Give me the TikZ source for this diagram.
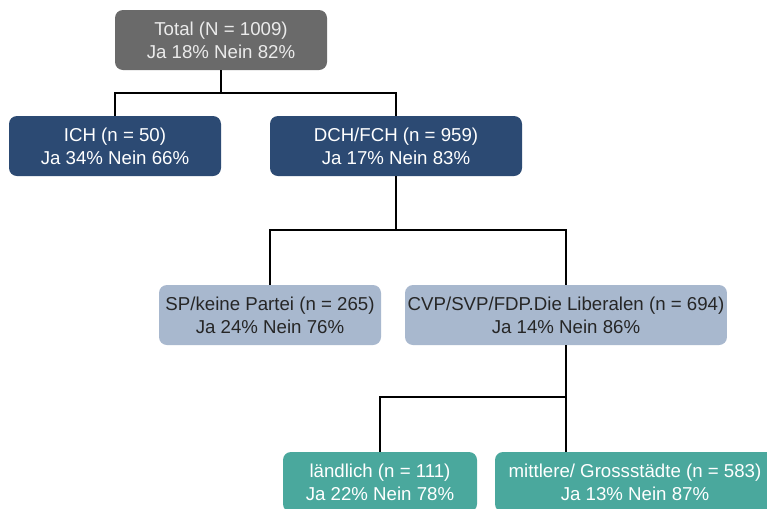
\documentclass[tikz,border=0pt]{standalone}
\usepackage{fontspec}
\setmainfont{Liberation Sans}
\usepackage{xcolor}
\usepackage{tikz}
\usetikzlibrary{positioning}
\definecolor{palGray}{HTML}{6A6A6A}
\definecolor{palNavy}{HTML}{2C4A73}
\definecolor{palSky}{HTML}{A8B8CE}
\definecolor{palTeal}{HTML}{4AA89D}

\begin{document}
\begin{tikzpicture}[
  x=0.75pt, y=-0.75pt,
  font=\fontsize{14}{17.25}\selectfont,
  box/.style={rounded corners=6pt, align=center, inner sep=2pt, minimum height=45pt},
  rootbox/.style={box, fill=palGray, text=black!8},
  partbox/.style={box, fill=palNavy, text=white},
  groupbox/.style={box, fill=palSky, text=black!85},
  townbox/.style={box, fill=palTeal, text=white},
  link/.style={line width=2pt, black},
]
\clip (0,0) rectangle (767,508);
\fill[white] (0,0) rectangle (767,508);

\node[rootbox, minimum width=159pt] (total) at (221,40) {Total (N = 1009)\\Ja 18\% Nein 82\%};
\node[partbox, minimum width=159pt] (ich) at (115,146) {ICH (n = 50)\\Ja 34\% Nein 66\%};
\node[partbox, minimum width=189pt] (dch) at (396,146) {DCH/FCH (n = 959)\\Ja 17\% Nein 83\%};
\node[groupbox, minimum width=166.5pt] (sp) at (270,315) {SP/keine Partei (n = 265)\\Ja 24\% Nein 76\%};
\node[groupbox, minimum width=238.5pt] (cvp) at (566,315) {CVP/SVP/FDP.Die Liberalen (n = 694)\\Ja 14\% Nein 86\%};
\node[townbox, minimum width=145.5pt] (land) at (380,482) {ländlich (n = 111)\\Ja 22\% Nein 78\%};
\node[townbox, minimum width=210pt] (stadt) at (635,482) {mittlere/ Grossstädte (n = 583)\\Ja 13\% Nein 87\%};

% elbow junctions
\coordinate (j1) at (221,93);
\coordinate (j2) at (396,230);
\coordinate (j3) at (566,397);

\draw[link] (total.south) -- (j1);
\draw[link] (j1) -| (ich.north);
\draw[link] (j1) -| (dch.north);
\draw[link] (dch.south) -- (j2);
\draw[link] (j2) -| (sp.north);
\draw[link] (j2) -| (cvp.north);
\draw[link] (cvp.south) -- (j3);
\draw[link] (j3) -| (land.north);
\draw[link] (j3) -- (j3 |- stadt.north);
\end{tikzpicture}
\end{document}
